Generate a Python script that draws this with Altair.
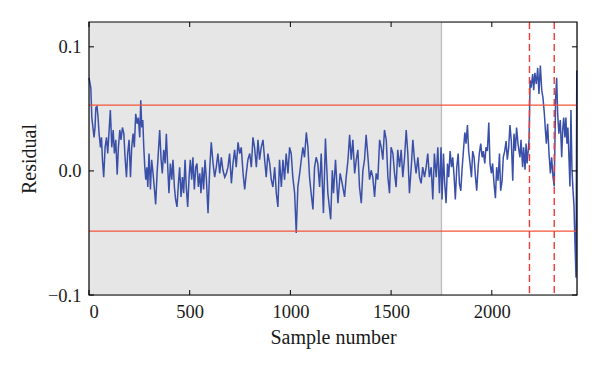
import altair as alt
import pandas as pd

# ---- data ----
samples = [
    0, 9, 14, 21, 25, 30, 34, 40, 45, 50, 57, 62, 67, 73, 80, 87, 93, 100, 106, 113,
    120, 126, 133, 140, 146, 153, 159, 166, 173, 179, 186, 192, 199, 206, 212, 219, 225, 232, 239, 245,
    252, 257, 262, 267, 272, 277, 282, 287, 292, 298, 305, 311, 318, 325, 331, 338, 344, 351, 358, 364,
    371, 378, 384, 391, 397, 404, 411, 417, 424, 430, 437, 444, 450, 457, 464, 470, 477, 483, 490, 497,
    503, 510, 516, 523, 530, 536, 543, 550, 556, 563, 569, 576, 583, 591,
    599, 607, 616, 624, 632, 640, 649, 657, 665, 674, 682, 690, 698, 707, 715, 723, 731, 740, 748, 756,
    765, 773, 781, 789, 798, 806, 814, 822, 831, 839, 847, 855, 864, 872, 880, 888, 897, 905, 913, 922,
    930, 938, 946, 955, 963, 971, 979, 988, 996, 1004, 1012, 1021, 1029, 1037, 1046, 1054, 1062, 1070, 1079, 1087,
    1095, 1103, 1112, 1120, 1128, 1136, 1145, 1153, 1164, 1174,
    1186, 1200, 1208, 1214, 1224, 1236, 1247, 1257, 1269, 1277, 1286, 1294, 1302, 1310, 1319, 1327, 1335, 1343, 1352, 1360,
    1368, 1376, 1385, 1393, 1401, 1409, 1418, 1426, 1434, 1443, 1451, 1459, 1467, 1476, 1484, 1492, 1500, 1509, 1517, 1525,
    1533, 1542, 1550, 1558, 1567, 1575, 1583, 1591, 1600, 1608, 1616, 1624, 1633, 1641, 1649, 1657, 1666, 1674, 1682, 1690,
    1699, 1707, 1715, 1724, 1732, 1740,
    1748, 1753, 1760, 1766, 1773, 1780, 1786, 1793, 1800, 1806, 1813, 1819, 1826, 1833, 1839, 1846, 1852, 1859, 1866, 1872,
    1879, 1885, 1892, 1899, 1905, 1912, 1919, 1925, 1932, 1938, 1945, 1952, 1958, 1965, 1971, 1978, 1985, 1991, 1998, 2004,
    2011, 2018, 2024, 2031, 2038, 2044, 2051, 2057, 2064, 2071, 2077, 2084, 2090, 2097, 2104, 2110, 2117, 2123, 2130, 2137,
    2140, 2145, 2153, 2158, 2165, 2170, 2175, 2181, 2185, 2190, 2195, 2203, 2208, 2214, 2221, 2228, 2234, 2241, 2248, 2254,
    2261, 2266, 2271, 2277, 2284, 2291, 2297, 2304, 2310, 2317, 2322, 2327, 2333, 2340, 2347, 2352, 2357, 2363, 2368, 2373,
    2378, 2383, 2388, 2393, 2398, 2403, 2408, 2413, 2418, 2422,
]
residual = [
    0.075, 0.067, 0.043, 0.033, 0.027, 0.035, 0.051, 0.052, 0.043, 0.030, 0.019, 0.027, 0.0085, -0.005, 0.019, 0.027, 0.014, 0.033, 0.049, 0.019,
    0.033, 0.014, 0.025, -0.003, 0.019, 0.033, 0.025, 0.035, 0.030, 0.011, -0.005, 0.014, 0.025, -0.005, 0.019, 0.030, 0.019, 0.046, 0.038, 0.043,
    0.027, 0.057, 0.035, 0.041, 0.019, 0.003, -0.007, 0.003, -0.013, 0.014, -0.015, 0.009, -0.002, -0.015, -0.027, -0.002, 0.014, 0.033, 0.009, -0.002,
    0.017, 0.006, 0.030, 0.003, -0.018, 0.006, -0.007, 0.009, -0.013, -0.023, -0.029, -0.010, 0.003, -0.021, -0.005, -0.018, 0.009, -0.013, -0.029, -0.005,
    0.009, -0.007, 0.011, -0.015, 0.003, 0.006, -0.013, -0.002, -0.018, 0.003, -0.015, 0.009, -0.007, -0.034,
    0.0005, 0.023, 0.006, -0.005, 0.003, 0.014, -0.002, 0.011, 0.0005, -0.005, -0.002, 0.003, 0.014, -0.010, 0.006, 0.017, 0.003, 0.023, 0.014, 0.019,
    -0.002, -0.015, -0.002, 0.009, 0.014, 0.003, 0.027, 0.019, 0.003, 0.025, 0.009, 0.019, 0.025, 0.009, -0.005, 0.014, 0.006, -0.007, -0.013, 0.003,
    -0.018, -0.029, 0.009, -0.013, 0.009, -0.007, 0.014, -0.002, 0.019, 0.014, -0.005, -0.018, -0.050, -0.013, -0.002, 0.009, 0.019, 0.011, 0.031, 0.019,
    -0.005, -0.018, -0.031, 0.003, 0.011, 0.006, -0.013, 0.014, -0.034, 0.026,
    -0.018, -0.039, 0.0005, -0.018, 0.009, -0.026, -0.002, -0.010, -0.021, -0.005, 0.009, 0.029, 0.009, 0.025, -0.002, 0.009, 0.017, -0.013, -0.026, 0.0005,
    0.009, 0.029, 0.011, -0.007, 0.0005, -0.005, -0.021, -0.002, -0.007, 0.025, 0.019, 0.009, 0.033, 0.025, -0.005, -0.018, 0.019, 0.014, -0.002, -0.013,
    0.017, 0.003, 0.017, -0.005, 0.011, 0.033, 0.014, -0.018, 0.003, 0.025, 0.009, -0.002, 0.011, -0.005, -0.010, 0.003, -0.005, 0.003, 0.014, -0.005,
    0.003, -0.023, 0.014, -0.005, 0.019, -0.018,
    0.019, -0.023, 0.014, -0.010, -0.026, 0.006, -0.005, 0.016, 0.003, 0.011, -0.005, -0.023, 0.003, 0.014, -0.010, -0.016, 0.0005, 0.016, 0.031, 0.022,
    0.037, 0.016, 0.006, -0.005, 0.016, 0.011, -0.005, -0.016, 0.003, 0.014, 0.022, 0.011, 0.016, 0.006, 0.019, 0.016, 0.039, 0.006, -0.002, 0.006,
    -0.010, -0.022, 0.003, -0.008, 0.014, -0.016, -0.008, 0.011, 0.016, 0.024, 0.009, 0.019, 0.037, 0.024, -0.008, 0.030, 0.016, 0.035, 0.022, 0.014,
    0.011, 0.025, 0.003, 0.019, 0.001, 0.022, 0.006, 0.017, 0.025, 0.073, 0.067, 0.078, 0.065, 0.079, 0.070, 0.083, 0.062, 0.085, 0.065, 0.059,
    0.046, 0.033, 0.022, 0.038, 0.014, -0.002, 0.011, -0.005, -0.0125, 0.059, 0.075, 0.046, 0.030, 0.041, 0.011, 0.033, 0.043, 0.027, 0.043, 0.022,
    0.035, 0.011, -0.0125, 0.049, 0.001, -0.015, -0.028, -0.058, -0.086, 0.081,
]
shade_start = [0]
shade_end = [1750]
limit_values = [0.053, -0.0485]
alarm_samples = [2187, 2310]
x_ticks = [0, 500, 1000, 1500, 2000]
y_ticks = [-0.1, 0.0, 0.1]
X_DOMAIN = [0, 2423]
Y_DOMAIN = [-0.1, 0.12]

W, H = 488, 273
FONT = "Liberation Serif"
TXT = "#1a1a1a"

xs = alt.Scale(domain=X_DOMAIN, nice=False, zero=False)
ys = alt.Scale(domain=Y_DOMAIN, nice=False, zero=False)

xaxis = alt.Axis(values=x_ticks, title="Sample number", ticks=False, domain=False, grid=False,
                 labelPadding=7, titlePadding=7, format="d",
                 labelFont=FONT, titleFont=FONT, labelFontSize=18.5, titleFontSize=20,
                 titleFontWeight="normal", labelColor=TXT, titleColor=TXT)
yaxis = alt.Axis(values=y_ticks, title="Residual", ticks=False, domain=False, grid=False,
                 labelPadding=8, titlePadding=8,
                 labelExpr="datum.value < 0 ? '\u2212' + format(-datum.value, '.1f') : format(datum.value, '.1f')",
                 labelFont=FONT, titleFont=FONT, labelFontSize=18.5, titleFontSize=20,
                 titleFontWeight="normal", labelColor=TXT, titleColor=TXT)

line_df = pd.DataFrame({"sample": samples, "residual": residual})
shade_df = pd.DataFrame({"x0": shade_start, "x1": shade_end, "ylo": [Y_DOMAIN[0]], "yhi": [Y_DOMAIN[1]]})
limit_df = pd.DataFrame({"v": limit_values})
alarm_df = pd.DataFrame({"s": alarm_samples})
edge_df = pd.DataFrame({"s": shade_end})
xt_df = pd.DataFrame({"t": x_ticks})
yt_df = pd.DataFrame({"t": y_ticks})

shade = alt.Chart(shade_df).mark_rect(color="#e6e6e6").encode(
    x=alt.X("x0:Q", scale=xs, axis=xaxis), x2="x1",
    y=alt.Y("ylo:Q", scale=ys, axis=yaxis), y2="yhi")
edge = alt.Chart(edge_df).mark_rule(color="#bdbdbd", strokeWidth=1.3).encode(
    x=alt.X("s:Q", scale=xs, axis=xaxis))
line = alt.Chart(line_df).mark_line(color="#3a50a8", strokeWidth=1.5).encode(
    x=alt.X("sample:Q", scale=xs, axis=xaxis),
    y=alt.Y("residual:Q", scale=ys, axis=yaxis))
limits = alt.Chart(limit_df).mark_rule(color="#f2553a", strokeWidth=1.4).encode(
    y=alt.Y("v:Q", scale=ys, axis=yaxis))
alarms = alt.Chart(alarm_df).mark_rule(color="#f03a36", strokeWidth=1.4, strokeDash=[7, 4]).encode(
    x=alt.X("s:Q", scale=xs, axis=xaxis))

tb = alt.Chart(xt_df).mark_rule(color="black").encode(
    x=alt.X("t:Q", scale=xs, axis=xaxis), y=alt.value(H), y2=alt.value(H - 5))
tt = alt.Chart(xt_df).mark_rule(color="black").encode(
    x=alt.X("t:Q", scale=xs, axis=xaxis), y=alt.value(0), y2=alt.value(5))
tl = alt.Chart(yt_df).mark_rule(color="black").encode(
    y=alt.Y("t:Q", scale=ys, axis=yaxis), x=alt.value(0), x2=alt.value(5))
tr = alt.Chart(yt_df).mark_rule(color="black").encode(
    y=alt.Y("t:Q", scale=ys, axis=yaxis), x=alt.value(W), x2=alt.value(W - 5))

frame = alt.Chart(shade_df).mark_rect(fill=None, stroke="black", strokeWidth=1.2).encode(
    x=alt.value(0), x2=alt.value(W), y=alt.value(0), y2=alt.value(H))

chart = alt.layer(shade, edge, line, limits, alarms, tb, tt, tl, tr, frame).properties(
    width=W, height=H,
    padding={"left": 81, "top": 14, "right": 12, "bottom": 60},
    autosize="none",
).configure_view(stroke=None).configure(background="white")

chart.save("out.html", embed_options={"renderer": "svg", "actions": False})
